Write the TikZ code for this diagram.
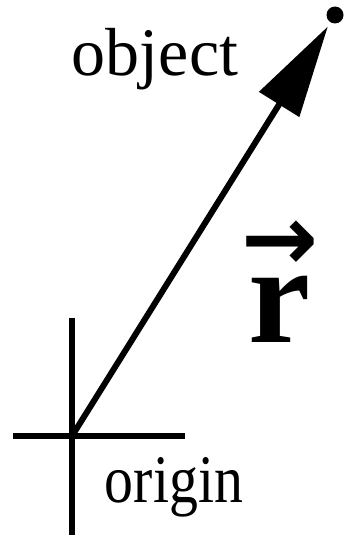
\documentclass[tikz,border=0pt]{standalone}
\usepackage{fontspec}
\setmainfont{Liberation Serif}
\newfontfamily\arrowfont{DejaVu Sans}
\usetikzlibrary{arrows.meta,positioning,calc}
\definecolor{vecink}{RGB}{0,0,0}
\newcommand{\biglabel}[1]{\fontsize{68}{80}\selectfont #1}
\newcommand{\vecr}{{\arrowfont\bfseries\fontsize{92}{60}\selectfont →}\\[4pt]{\fontsize{140}{150}\selectfont\bfseries r}}

\begin{document}
\begin{tikzpicture}[x=1pt,y=-1pt,line width=6pt]
		\useasboundingbox (0,0) rectangle (343,535);
		\coordinate (org) at (72,436);
		\node[circle,fill=vecink,inner sep=0pt,minimum size=17pt] (obj) at (335,15) {};
		\draw (72,318) -- (72,535) (13,436) -- (185,436);
		\draw[-{Triangle[length=92pt,width=46pt]},shorten >=2pt] (org) -- (obj);
		\node[anchor=base] (objtext) at (155,75) {\biglabel{object}};
		\node[anchor=base,xscale=0.85,transform shape] (orgtext) at (174,502) {\biglabel{origin}};
		\node[anchor=south,align=center,inner sep=0pt] (rvec) at (280,345) {\vecr};
\end{tikzpicture}
\end{document}
